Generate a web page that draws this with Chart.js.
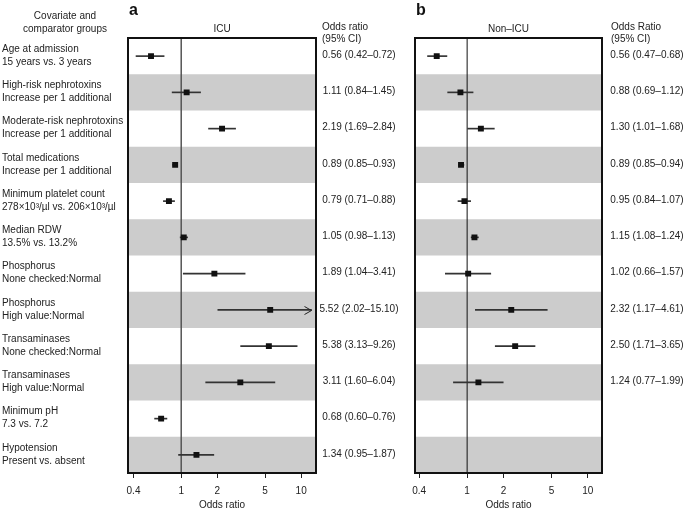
<!DOCTYPE html>
<html>
<head>
<meta charset="utf-8">
<script src="https://cdn.jsdelivr.net/npm/chart.js@4.4.1/dist/chart.umd.min.js"></script>
<style>
  body { margin: 0; background: #fff; width: 685px; height: 511px; position: relative; overflow: hidden; }
  canvas { position: absolute; top: 0; }
  #icu { left: 0; }
  #noIcu { left: 400px; }
</style>
</head>
<body>
<canvas id="icu" width="410" height="511"></canvas>
<canvas id="noIcu" width="285" height="511"></canvas>
<script>
// Etiquetas de las filas (dos lineas por fila)
const covariables = ['Age at admission', 'High-risk nephrotoxins', 'Moderate-risk nephrotoxins', 'Total medications',
  'Minimum platelet count', 'Median RDW', 'Phosphorus', 'Phosphorus', 'Transaminases', 'Transaminases',
  'Minimum pH', 'Hypotension'];
const comparadores = ['15 years vs. 3 years', 'Increase per 1 additional', 'Increase per 1 additional',
  'Increase per 1 additional', '278×10³/µl vs. 206×10³/µl', '13.5% vs. 13.2%', 'None checked:Normal',
  'High value:Normal', 'None checked:Normal', 'High value:Normal', '7.3 vs. 7.2', 'Present vs. absent'];
const filas = covariables.map((c, i) => 'fila' + i);

// ICU
const orIcu = [0.56, 1.11, 2.19, 0.89, 0.79, 1.05, 1.89, 5.52, 5.38, 3.11, 0.68, 1.34];
const bajoIcu = [0.42, 0.84, 1.69, 0.85, 0.71, 0.98, 1.04, 2.02, 3.13, 1.60, 0.60, 0.95];
const altoIcu = [0.72, 1.45, 2.84, 0.93, 0.88, 1.13, 3.41, 15.10, 9.26, 6.04, 0.76, 1.87];

// Non-ICU (sin datos para pH y hipotension)
const orNoIcu = [0.56, 0.88, 1.30, 0.89, 0.95, 1.15, 1.02, 2.32, 2.50, 1.24, null, null];
const bajoNoIcu = [0.47, 0.69, 1.01, 0.85, 0.84, 1.08, 0.66, 1.17, 1.71, 0.77, null, null];
const altoNoIcu = [0.68, 1.12, 1.68, 0.94, 1.07, 1.24, 1.57, 4.61, 3.65, 1.99, null, null];

const ticksX = [0.4, 1, 2, 5, 10];
const topeFlecha = 12.2;

const fuente = '"Liberation Sans", Arial, Helvetica, sans-serif';
Chart.defaults.font.family = fuente;
Chart.defaults.font.size = 10;
Chart.defaults.color = '#222';

const textoOr = (v, b, a) => `${v.toFixed(2)} (${b.toFixed(2)}–${a.toFixed(2)})`;

// Franjas, linea de referencia, flechas, marco y textos
const decorar = (cfg) => ({
  id: 'decorar',
  beforeDatasetsDraw(chart) {
    const { ctx, chartArea: a, scales: { x, y } } = chart;
    const alto = (a.bottom - a.top) / filas.length;
    ctx.save();
    ctx.fillStyle = '#cccccc';
    filas.forEach((f, i) => {
      if (i % 2 === 1) {
        const yc = y.getPixelForValue(i);
        ctx.fillRect(a.left, yc - alto / 2, a.right - a.left, alto);
      }
    });
    const x1 = x.getPixelForValue(1);
    ctx.strokeStyle = cfg.colorRef;
    ctx.lineWidth = cfg.anchoRef;
    ctx.beginPath();
    ctx.moveTo(x1, a.top);
    ctx.lineTo(x1, a.bottom);
    ctx.stroke();
    ctx.restore();
  },
  afterDatasetsDraw(chart) {
    const { ctx, chartArea: a, scales: { x, y } } = chart;
    ctx.save();
    ctx.strokeStyle = '#222';
    ctx.lineWidth = 1;
    cfg.alto.forEach((v, i) => {
      if (v != null && v > topeFlecha) {
        const punta = x.getPixelForValue(topeFlecha);
        const yc = Math.round(y.getPixelForValue(i)) + 0.5;
        ctx.beginPath();
        ctx.moveTo(punta - 7, yc - 4);
        ctx.lineTo(punta, yc);
        ctx.lineTo(punta - 7, yc + 4);
        ctx.stroke();
      }
    });
    ctx.strokeStyle = '#111';
    ctx.lineWidth = 2;
    ctx.strokeRect(a.left, a.top, a.right - a.left, a.bottom - a.top);
    ctx.restore();
  },
  afterDraw(chart) {
    const { ctx, chartArea: a, scales: { y } } = chart;
    ctx.save();
    ctx.fillStyle = '#222';
    ctx.textBaseline = 'middle';
    ctx.font = '10px ' + fuente;

    // Encabezados
    ctx.textAlign = 'center';
    ctx.fillText(cfg.titulo, (a.left + a.right) / 2, 29);
    ctx.textAlign = 'left';
    ctx.fillText(cfg.cabecera, cfg.xTexto, 27);
    ctx.fillText('(95% CI)', cfg.xTexto, 39);
    ctx.fillStyle = '#111';
    ctx.font = 'bold 16px ' + fuente;
    ctx.fillText(cfg.letra, a.left + 1, 11);
    ctx.fillStyle = '#222';
    ctx.font = '10px ' + fuente;

    if (cfg.conEtiquetas) {
      ctx.textAlign = 'center';
      ctx.fillText('Covariate and', 65, 16);
      ctx.fillText('comparator groups', 65, 29);
      ctx.textAlign = 'left';
      filas.forEach((f, i) => {
        const yc = y.getPixelForValue(i);
        ctx.fillText(covariables[i], 2, yc - 7);
        ctx.fillText(comparadores[i], 2, yc + 6);
      });
    }

    // Valores OR (IC 95%)
    ctx.textAlign = 'center';
    cfg.or.forEach((v, i) => {
      if (v == null) return;
      ctx.fillText(textoOr(v, cfg.bajo[i], cfg.alto[i]), cfg.xValor, y.getPixelForValue(i) - 1);
    });
    ctx.restore();
  }
});

const crearGrafico = (id, cfg) => {
  const barras = [];
  const puntos = [];
  cfg.or.forEach((v, i) => {
    if (v == null) return;
    barras.push({ x: [cfg.bajo[i], Math.min(cfg.alto[i], topeFlecha)], y: filas[i] });
    puntos.push({ x: v, y: filas[i] });
  });
  return new Chart(document.getElementById(id), {
    type: 'bar',
    data: {
      labels: filas,
      datasets: [
        { type: 'line', data: puntos, showLine: false, pointStyle: 'rect', pointRadius: 4.2,
          pointHoverRadius: 4.2, pointBackgroundColor: '#111', pointBorderWidth: 0, order: 0 },
        { type: 'bar', data: barras, backgroundColor: '#333', barThickness: 1, order: 1 }
      ]
    },
    options: {
      indexAxis: 'y',
      responsive: false,
      animation: false,
      devicePixelRatio: 1,
      layout: { padding: { left: cfg.izq, right: cfg.der, top: 38, bottom: 0 } },
      plugins: { legend: { display: false }, tooltip: { enabled: false } },
      scales: {
        x: {
          type: 'logarithmic',
          min: cfg.min,
          max: cfg.max,
          bounds: 'data',
          afterBuildTicks: (s) => { s.ticks = ticksX.map((v) => ({ value: v })); },
          afterFit: (s) => { s.height = 38; },
          ticks: { autoSkip: false, maxRotation: 0, padding: 7, color: '#222',
            callback: (v) => String(v) },
          grid: { drawOnChartArea: false, tickLength: 5, color: '#222', lineWidth: 1 },
          border: { display: false },
          title: { display: true, text: 'Odds ratio', color: '#222', font: { size: 10 }, padding: 0 }
        },
        y: { type: 'category', display: false, offset: true }
      }
    },
    plugins: [decorar(cfg)]
  });
};

crearGrafico('icu', {
  or: orIcu, bajo: bajoIcu, alto: altoIcu, min: 0.36, max: 13.3, izq: 128, der: 94,
  titulo: 'ICU', letra: 'a', cabecera: 'Odds ratio', xTexto: 322, xValor: 359,
  conEtiquetas: true, colorRef: '#555', anchoRef: 1.5
});
crearGrafico('noIcu', {
  or: orNoIcu, bajo: bajoNoIcu, alto: altoNoIcu, min: 0.37, max: 13.1, izq: 15, der: 83,
  titulo: 'Non–ICU', letra: 'b', cabecera: 'Odds Ratio', xTexto: 211, xValor: 247,
  conEtiquetas: false, colorRef: '#111', anchoRef: 1
});
</script>
</body>
</html>
